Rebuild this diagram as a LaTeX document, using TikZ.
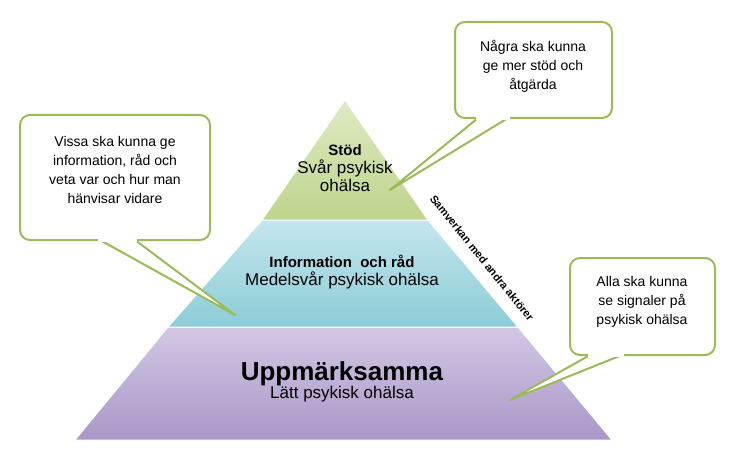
\documentclass[tikz,border=0pt]{standalone}
\usepackage{fontspec}
\setmainfont{Liberation Sans}
\definecolor{bord}{RGB}{155,187,89}
\definecolor{gtop}{RGB}{222,234,196}
\definecolor{gbot}{RGB}{190,212,140}
\definecolor{ttop}{RGB}{196,230,238}
\definecolor{tbot}{RGB}{140,204,214}
\definecolor{ptop}{RGB}{210,200,228}
\definecolor{pbot}{RGB}{170,150,200}
\begin{document}
\begin{tikzpicture}[x=1pt,y=-1pt,
  tier/.style={draw=white,line width=1pt},
  box/.style={draw=bord,line width=2pt,rounded corners=10pt,fill=white},
  tail/.style={draw=bord,line width=2pt,fill=white,line join=round},
  txt/.style={align=center,font=\fontsize{14}{19}\selectfont}]
\useasboundingbox (0,0) rectangle (732,460);
% pyramid
\shade[tier,top color=ptop,bottom color=pbot]
  (168,327) -- (518,327) -- (612,440) -- (75,440) -- cycle;
\shade[tier,top color=ttop,bottom color=tbot]
  (262,220) -- (428,220) -- (518,327) -- (168,327) -- cycle;
\shade[tier,top color=gtop,bottom color=gbot]
  (345,100) -- (428,220) -- (262,220) -- cycle;
\node[txt] (stod) at (345,168) {{\fontsize{15}{19}\selectfont\textbf{Stöd}}\\[-1pt]{\fontsize{17}{20}\selectfont Svår psykisk}\\[-1pt]{\fontsize{17}{20}\selectfont ohälsa}};
\node[txt] (info) at (342,272) {{\fontsize{15}{19}\selectfont\textbf{Information\ \ och råd}}\\[-1pt]{\fontsize{17}{20}\selectfont Medelsvår psykisk ohälsa}};
\node[txt] (upp) at (342,382) {{\fontsize{26}{30}\selectfont\textbf{Uppmärksamma}}\\[-1pt]{\fontsize{17}{20}\selectfont Lätt psykisk ohälsa}};
\node[rotate=-51,font=\bfseries\fontsize{11}{13}\selectfont] (samv) at (482,258) {Samverkan med andra aktörer};
% callouts
\coordinate (t1) at (235,315);
\coordinate (t2) at (390,190);
\coordinate (t3) at (510,400);
\draw[box] (20,115) rectangle (210,240);
\draw[tail] (100,240) -- (t1) -- (135,240);
\fill[white] (98,236) rectangle (137,242);
\node[txt] (c1) at (115,170) {Vissa ska kunna ge\\information, råd och\\veta var och hur man\\hänvisar vidare};
\draw[box] (455,22) rectangle (612,118);
\draw[tail] (478,118) -- (t2) -- (508,118);
\fill[white] (476,114) rectangle (510,120);
\node[txt] (c2) at (533,66) {Några ska kunna\\ge mer stöd och\\åtgärda};
\draw[box] (570,258) rectangle (715,355);
\draw[tail] (590,355) -- (t3) -- (622,355);
\fill[white] (588,351) rectangle (624,357);
\node[txt] (c3) at (642,302) {Alla ska kunna\\se signaler på\\psykisk ohälsa};
\end{tikzpicture}
\end{document}
